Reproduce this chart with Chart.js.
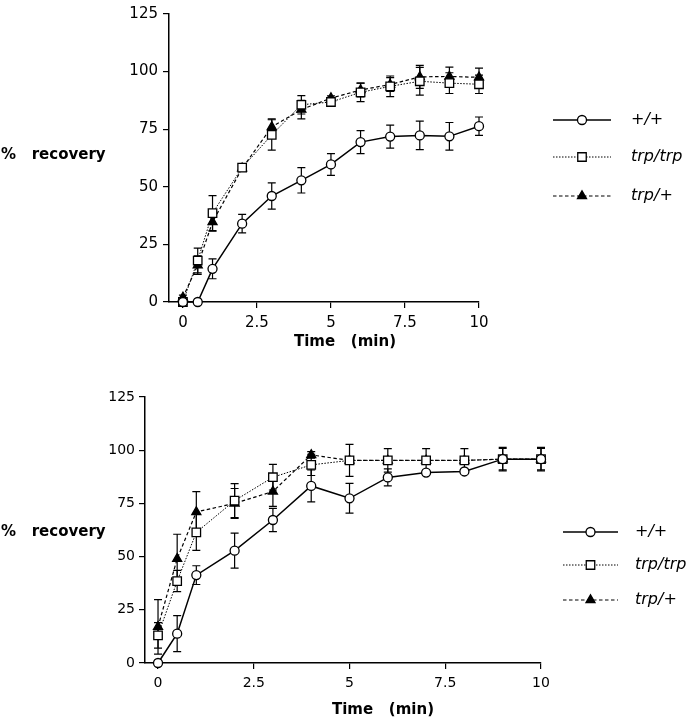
<!DOCTYPE html>
<html>
<head>
<meta charset="utf-8">
<script src="https://cdn.jsdelivr.net/npm/chart.js@4.4.1/dist/chart.umd.min.js"></script>
<style>
  body { margin: 0; background: #fff; }
  .panel { position: absolute; left: 0; width: 687px; height: 360px; }
</style>
</head>
<body>
<div class="panel" style="top:0"><canvas id="topChart" width="687" height="360"></canvas></div>
<div class="panel" style="top:360px"><canvas id="bottomChart" width="687" height="360"></canvas></div>
<script>
// time points (min)
const times = [0, 0.5, 1, 2, 3, 4, 5, 6, 7, 8, 9, 10];
const xTicks = [0, 2.5, 5, 7.5, 10];
const yTicks = [0, 25, 50, 75, 100, 125];
const seriesNames = ['+/+', 'trp/trp', 'trp/+'];

// upper panel
const topWt = [0, 0, 14.4, 34, 46, 52.8, 59.7, 69.4, 71.8, 72.3, 71.9, 76.3];
const topWtErr = [0, 0, 4.3, 4, 5.7, 5.5, 4.7, 5, 5, 6.2, 6, 4];
const topTrpTrp = [0, 18, 38.6, 58.3, 72.5, 85.6, 86.8, 91, 93.6, 95.8, 95, 94.5];
const topTrpTrpErr = [0, 5.4, 7.6, 1.5, 6.6, 4, 1.5, 4, 4.5, 6, 4.5, 4];
const topTrpHet = [2, 16, 34.7, 58, 76, 83.5, 88.5, 92, 94.4, 97.7, 97.9, 97.5];
const topTrpHetErr = [1, 4, 4, 1, 3.5, 4, 1, 3, 3, 5, 4, 4];

// lower panel
const botWt = [0, 13.8, 41.3, 52.8, 67.2, 83.2, 77.4, 87.2, 89.5, 90, 95.8, 95.8];
const botWtErr = [0, 8.5, 4.4, 8.2, 5.5, 7.5, 7, 4, 1, 1, 5, 5];
const botTrpTrp = [13, 38.5, 61.4, 76.3, 87.3, 93.1, 95.2, 95.2, 95.2, 95.2, 95.8, 95.8];
const botTrpTrpErr = [6, 5, 8.5, 8, 6, 5, 7.5, 5.5, 5.5, 5.5, 5.5, 5.5];
const botTrpHet = [17, 49, 71, 75, 80.6, 97.8, 95.2, 95.2, 95.2, 95.2, 95.8, 95.8];
const botTrpHetErr = [12.8, 11.5, 9.5, 7, 7, 1.5, 0, 0, 0, 0, 0, 0];

Chart.defaults.color = '#000';
Chart.defaults.font.family = '"DejaVu Sans", sans-serif';

const styles = [
  { borderWidth: 1.5, borderDash: [], pointStyle: 'circle', pointRadius: 4.5, pointBackgroundColor: '#fff' },
  { borderWidth: 1, borderDash: [1.5, 1.5], pointStyle: 'rect', pointRadius: 6, pointBackgroundColor: '#fff' },
  { borderWidth: 1.2, borderDash: [3.5, 2.5], pointStyle: 'triangle', pointRadius: 5.2, pointBackgroundColor: '#000' }
];

function marker(ctx, style, x, y, r) {
  ctx.save();
  ctx.setLineDash([]);
  ctx.lineWidth = 1.3;
  ctx.strokeStyle = '#000';
  ctx.fillStyle = style.pointBackgroundColor;
  ctx.beginPath();
  if (style.pointStyle === 'circle') {
    ctx.arc(x, y, r, 0, Math.PI * 2);
  } else if (style.pointStyle === 'rect') {
    const s = r * Math.SQRT1_2;
    ctx.rect(x - s, y - s, 2 * s, 2 * s);
  } else {
    ctx.moveTo(x, y - r);
    ctx.lineTo(x + r * 0.866, y + r * 0.5);
    ctx.lineTo(x - r * 0.866, y + r * 0.5);
    ctx.closePath();
  }
  ctx.fill();
  ctx.stroke();
  ctx.restore();
}

const errorBars = {
  id: 'errorBars',
  beforeDatasetsDraw(chart) {
    const ctx = chart.ctx;
    const xs = chart.scales.x, ys = chart.scales.y;
    ctx.save();
    ctx.strokeStyle = '#000';
    ctx.lineWidth = 1.2;
    chart.data.datasets.forEach(ds => {
      ds.data.forEach((p, j) => {
        const e = ds.err[j];
        if (!e) return;
        const x = xs.getPixelForValue(p.x);
        const y1 = ys.getPixelForValue(p.y + e);
        const y2 = ys.getPixelForValue(p.y - e);
        ctx.beginPath();
        ctx.moveTo(x, y1); ctx.lineTo(x, y2);
        ctx.moveTo(x - 4, y1); ctx.lineTo(x + 4, y1);
        ctx.moveTo(x - 4, y2); ctx.lineTo(x + 4, y2);
        ctx.stroke();
      });
    });
    ctx.restore();
  }
};

const labelsAndLegend = {
  id: 'labelsAndLegend',
  afterDraw(chart, args, opts) {
    const ctx = chart.ctx;
    ctx.save();
    ctx.fillStyle = '#000';
    ctx.textBaseline = 'middle';
    ctx.font = 'bold 15px "DejaVu Sans", sans-serif';
    ctx.textAlign = 'left';
    ctx.fillText('%   recovery', 1, opts.yLabelY);
    ctx.textAlign = 'center';
    ctx.fillText('Time   (min)', opts.titleX, opts.titleY);
    // legend
    ctx.font = 'oblique 16px "DejaVu Sans", sans-serif';
    ctx.textAlign = 'left';
    chart.data.datasets.forEach((ds, i) => {
      const st = styles[i];
      const y = opts.legendY[i];
      ctx.save();
      ctx.strokeStyle = '#000';
      ctx.lineWidth = st.borderWidth;
      ctx.setLineDash(st.borderDash);
      ctx.beginPath();
      ctx.moveTo(opts.legendX0, y);
      ctx.lineTo(opts.legendX1, y);
      ctx.stroke();
      ctx.restore();
      marker(ctx, st, (opts.legendX0 + opts.legendX1) / 2, y, st.pointRadius);
      ctx.fillText(ds.label, opts.legendTextX, y);
    });
    ctx.restore();
  }
};

function makePanel(id, series, errs, cfg) {
  const datasets = series.map((vals, i) => Object.assign({
    label: seriesNames[i],
    data: times.map((t, j) => ({ x: t, y: vals[j] })),
    err: errs[i],
    borderColor: '#000',
    pointBorderColor: '#000',
    pointBorderWidth: 1.3,
    tension: 0,
    clip: false
  }, styles[i]));

  return new Chart(document.getElementById(id), {
    type: 'line',
    data: { datasets },
    options: {
      responsive: false,
      animation: false,
      events: [],
      layout: { padding: { left: 0, top: cfg.top, right: 687 - cfg.right, bottom: 0 } },
      plugins: {
        legend: { display: false },
        tooltip: { enabled: false },
        labelsAndLegend: cfg.text
      },
      scales: {
        x: {
          type: 'linear',
          min: cfg.xMin,
          max: 10,
          afterBuildTicks: s => { s.ticks = xTicks.map(v => ({ value: v })); },
          afterFit: s => { s.height = 360 - cfg.bottom; },
          ticks: { font: { size: cfg.tickSize }, padding: 6, maxRotation: 0, autoSkip: false },
          grid: { drawOnChartArea: false, drawTicks: true, tickLength: 6, color: '#000', lineWidth: 1.2 },
          border: { color: '#000', width: 1.5 }
        },
        y: {
          min: 0,
          max: 125,
          afterBuildTicks: s => { s.ticks = yTicks.map(v => ({ value: v })); },
          afterFit: s => { s.width = cfg.left; },
          ticks: { font: { size: cfg.tickSize }, padding: cfg.yPad },
          grid: { drawOnChartArea: false, drawTicks: true, tickLength: 6, color: '#000', lineWidth: 1.2 },
          border: { color: '#000', width: 1.5 }
        }
      }
    },
    plugins: [errorBars, labelsAndLegend]
  });
}

makePanel('topChart', [topWt, topTrpTrp, topTrpHet], [topWtErr, topTrpTrpErr, topTrpHetErr], {
  left: 169, right: 479, top: 7, bottom: 302, xMin: -0.47, tickSize: 15, yPad: 5,
  text: { yLabelY: 155, titleX: 345, titleY: 342, legendX0: 553, legendX1: 611, legendTextX: 631, legendY: [120, 157, 196] }
});

makePanel('bottomChart', [botWt, botTrpTrp, botTrpHet], [botWtErr, botTrpTrpErr, botTrpHetErr], {
  left: 145, right: 541, top: 37, bottom: 303, xMin: -0.34, tickSize: 14, yPad: 4,
  text: { yLabelY: 172, titleX: 383, titleY: 350, legendX0: 563, legendX1: 618, legendTextX: 635, legendY: [172, 205, 240] }
});
</script>
</body>
</html>
